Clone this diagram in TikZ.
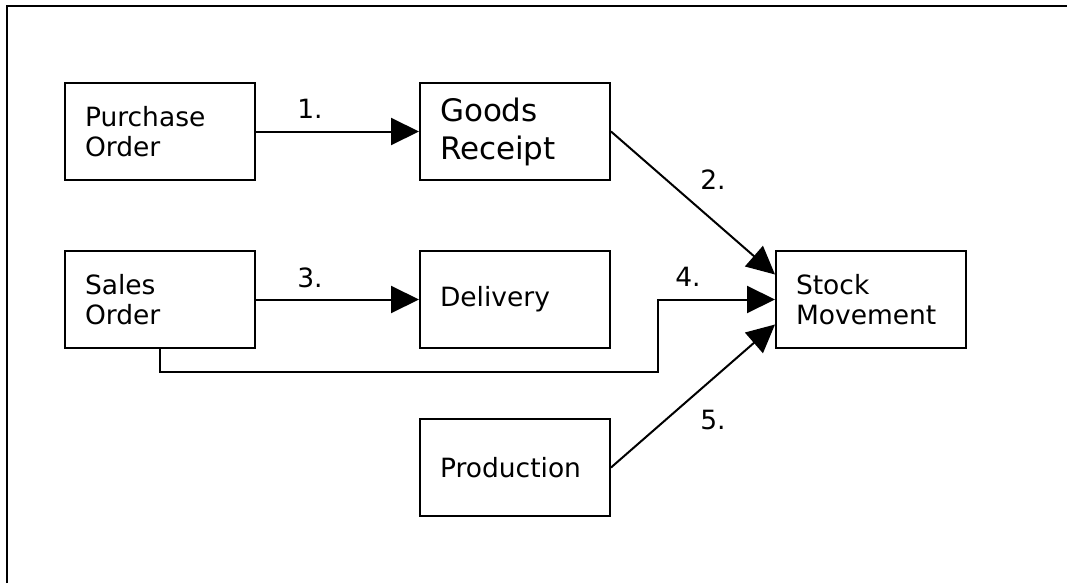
\documentclass[tikz,border=0pt]{standalone}
\usepackage{fontspec}
\setmainfont{DejaVu Sans}
\usetikzlibrary{arrows.meta}
\begin{document}
\begin{tikzpicture}[x=1pt,y=-1pt,
  box/.style={draw, line width=2pt, minimum width=190pt, minimum height=97pt,
    text width=150pt, inner xsep=20pt, align=left, anchor=center,
    font=\fontsize{26.5}{30}\selectfont},
  conn/.style={line width=2pt, -{Triangle[length=28pt,width=27pt]}},
  lbl/.style={font=\fontsize{26.5}{30}\selectfont, inner sep=0pt}]
\useasboundingbox (0,0) rectangle (1067,583);
\draw[line width=2.2pt] (7,583) -- (7,6) -- (1067,6);

\node[box] (po) at (160,131.5) {Purchase\\Order};
\node[box, font=\fontsize{31}{38}\selectfont] (gr) at (515,131.5) {Goods\\Receipt};
\node[box] (so) at (160,299.5) {Sales\\Order};
\node[box] (dl) at (515,299.5) {Delivery};
\node[box] (sm) at (871,299.5) {Stock\\Movement};
\node[box] (pr) at (515,467.5) {Production};

\coordinate (k1) at (658,372);

\draw[conn] (po.east) -- (gr.west);
\draw[conn] (so.east) -- (dl.west);
\draw[conn] (gr.east) -- ([yshift=25pt]sm.west);
\draw[conn] (so.south) |- (k1) |- (sm.west);
\draw[conn] (pr.east) -- ([yshift=-25pt]sm.west);

\node[lbl] (l1) at (310,109) {1.};
\node[lbl] (l2) at (713,180) {2.};
\node[lbl] (l3) at (310,278) {3.};
\node[lbl] (l4) at (688,277) {4.};
\node[lbl] (l5) at (713,420) {5.};
\end{tikzpicture}
\end{document}
